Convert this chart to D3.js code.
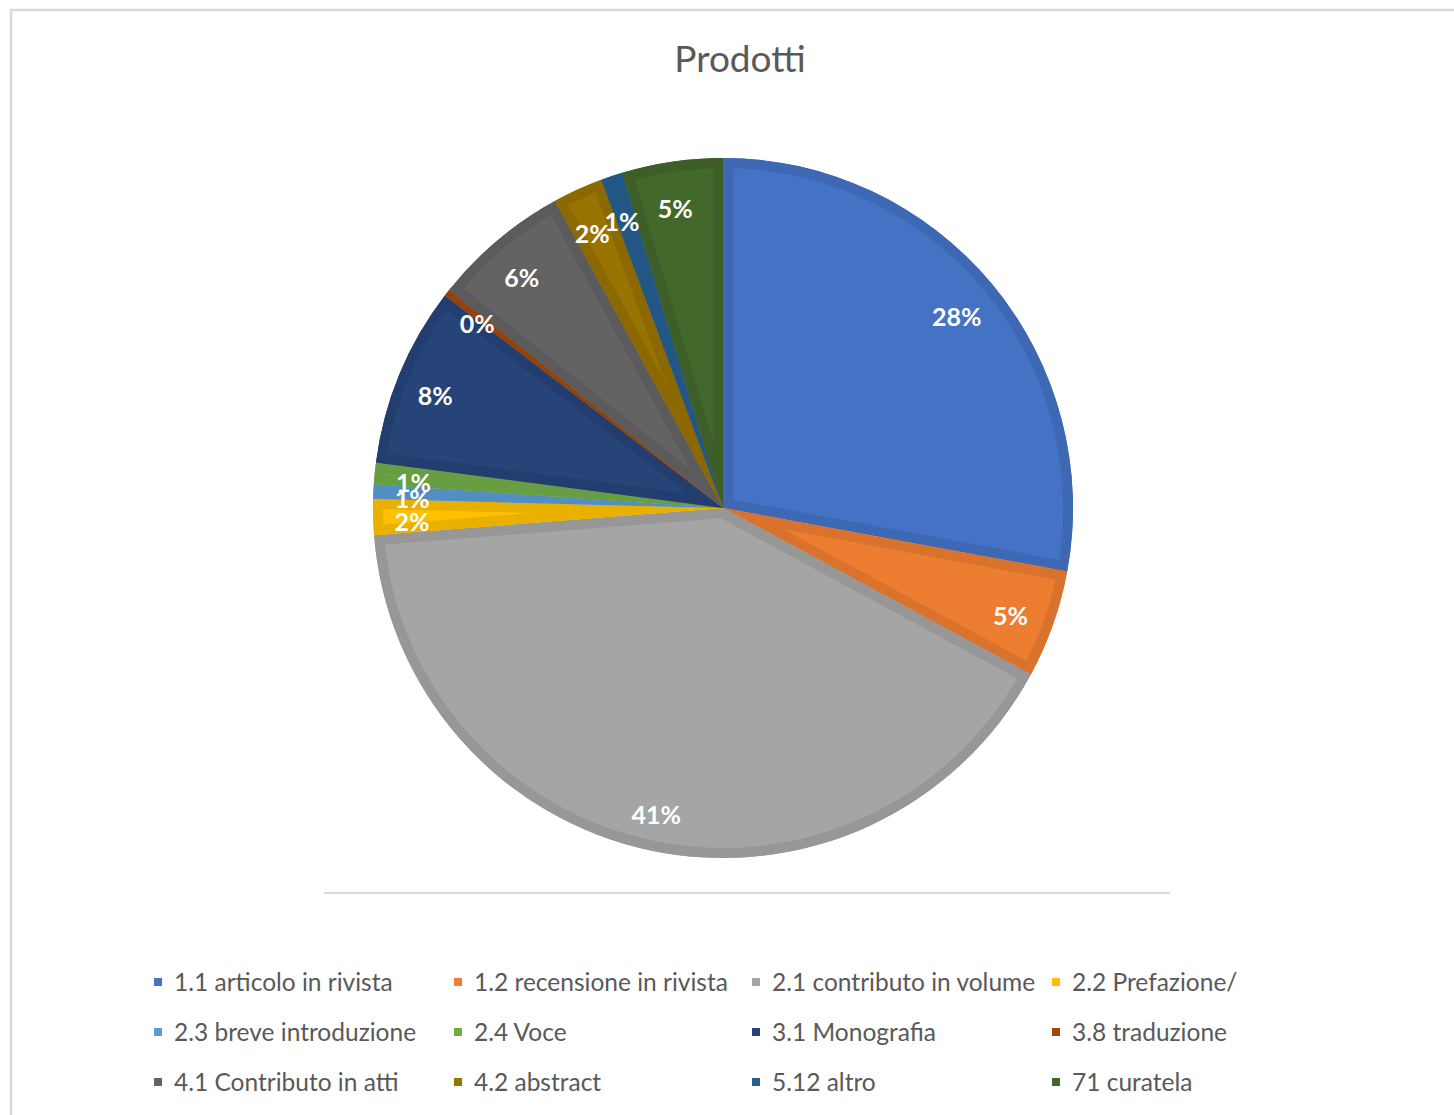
<!DOCTYPE html>
<html>
<head>
<meta charset="utf-8">
<script src="https://cdn.jsdelivr.net/npm/d3@7"></script>
<style>
  body { margin: 0; background: #fff; }
  text { font-family: Lato, "Open Sans", sans-serif; }
</style>
</head>
<body>
<div id="chart"></div>
<script>
// categories, in pie order (clockwise from 12 o'clock)
const categories = [
  '1.1 articolo in rivista', '1.2 recensione in rivista', '2.1 contributo in volume', '2.2 Prefazione/',
  '2.3 breve introduzione', '2.4 Voce', '3.1 Monografia', '3.8 traduzione',
  '4.1 Contributo in atti', '4.2 abstract', '5.12 altro', '71 curatela'
];
const counts = [84, 15, 123, 5, 2, 3, 25, 1, 19, 7, 3, 14];
const colors = ['#4472C4', '#ED7D31', '#A5A5A5', '#FFC000', '#5B9BD5', '#70AD47',
  '#264478', '#9E480E', '#636363', '#997300', '#255E91', '#43682B'];

const W = 1454, H = 1115;
const cx = 723, cy = 508, R = 350;

const svg = d3.select('#chart').append('svg').attr('width', W).attr('height', H);

// chart frame
svg.append('rect').attr('x', 11).attr('y', 10).attr('width', W + 20).attr('height', H + 20)
  .attr('fill', 'none').attr('stroke', '#d9d9d9').attr('stroke-width', 2.5);

svg.append('text').attr('x', 740).attr('y', 72).attr('text-anchor', 'middle')
  .attr('font-size', 37).attr('fill', '#595959').text('Prodotti');

const total = d3.sum(counts);
const data = categories.map((c, i) => ({ name: c, value: counts[i], color: colors[i] }));

const pie = d3.pie().sort(null).value(d => d.value);
const arc = d3.arc().innerRadius(0).outerRadius(R);
const labelArc = d3.arc().innerRadius(R * 0.88).outerRadius(R * 0.88);

const g = svg.append('g').attr('transform', `translate(${cx},${cy})`);
const arcs = pie(data);

const defs = svg.append('defs');
arcs.forEach((d, i) => {
  defs.append('clipPath').attr('id', 'clip' + i).append('path').attr('d', arc(d));
});

const slices = g.selectAll('.slice').data(arcs).enter().append('g').attr('class', 'slice');
slices.append('path').attr('d', arc).attr('fill', d => d.data.color);
// darker bevel band along each slice edge
slices.append('path').attr('d', arc)
  .attr('fill', 'none')
  .attr('stroke', d => d3.color(d.data.color).darker(0.25))
  .attr('stroke-width', 20)
  .attr('stroke-linejoin', 'round')
  .attr('clip-path', (d, i) => `url(#clip${i})`);

g.selectAll('.lbl').data(arcs).enter().append('text')
  .attr('class', 'lbl')
  .attr('transform', d => {
    const [x, y] = labelArc.centroid(d);
    return `translate(${x - 3},${y + 6})`;
  })
  .attr('text-anchor', 'middle').attr('dy', '0.35em')
  .attr('font-size', 25).attr('font-weight', 'bold').attr('fill', '#fff')
  .text(d => Math.round(d.data.value / total * 100) + '%');

// separator line under plot area
svg.append('line').attr('x1', 324).attr('x2', 1170).attr('y1', 893).attr('y2', 893)
  .attr('stroke', '#d9d9d9').attr('stroke-width', 2);

// legend, 4 columns x 3 rows
const colX = [158, 458, 756, 1056];
const rowY = [982, 1032, 1082];
const leg = svg.selectAll('.leg').data(data).enter().append('g')
  .attr('transform', (d, i) => `translate(${colX[i % 4]},${rowY[Math.floor(i / 4)]})`);
leg.append('rect').attr('x', -4).attr('y', -4).attr('width', 8).attr('height', 8).attr('fill', d => d.color);
leg.append('text').attr('x', 16).attr('dy', '0.35em').attr('font-size', 24.5).attr('fill', '#595959')
  .text(d => d.name);
</script>
</body>
</html>
